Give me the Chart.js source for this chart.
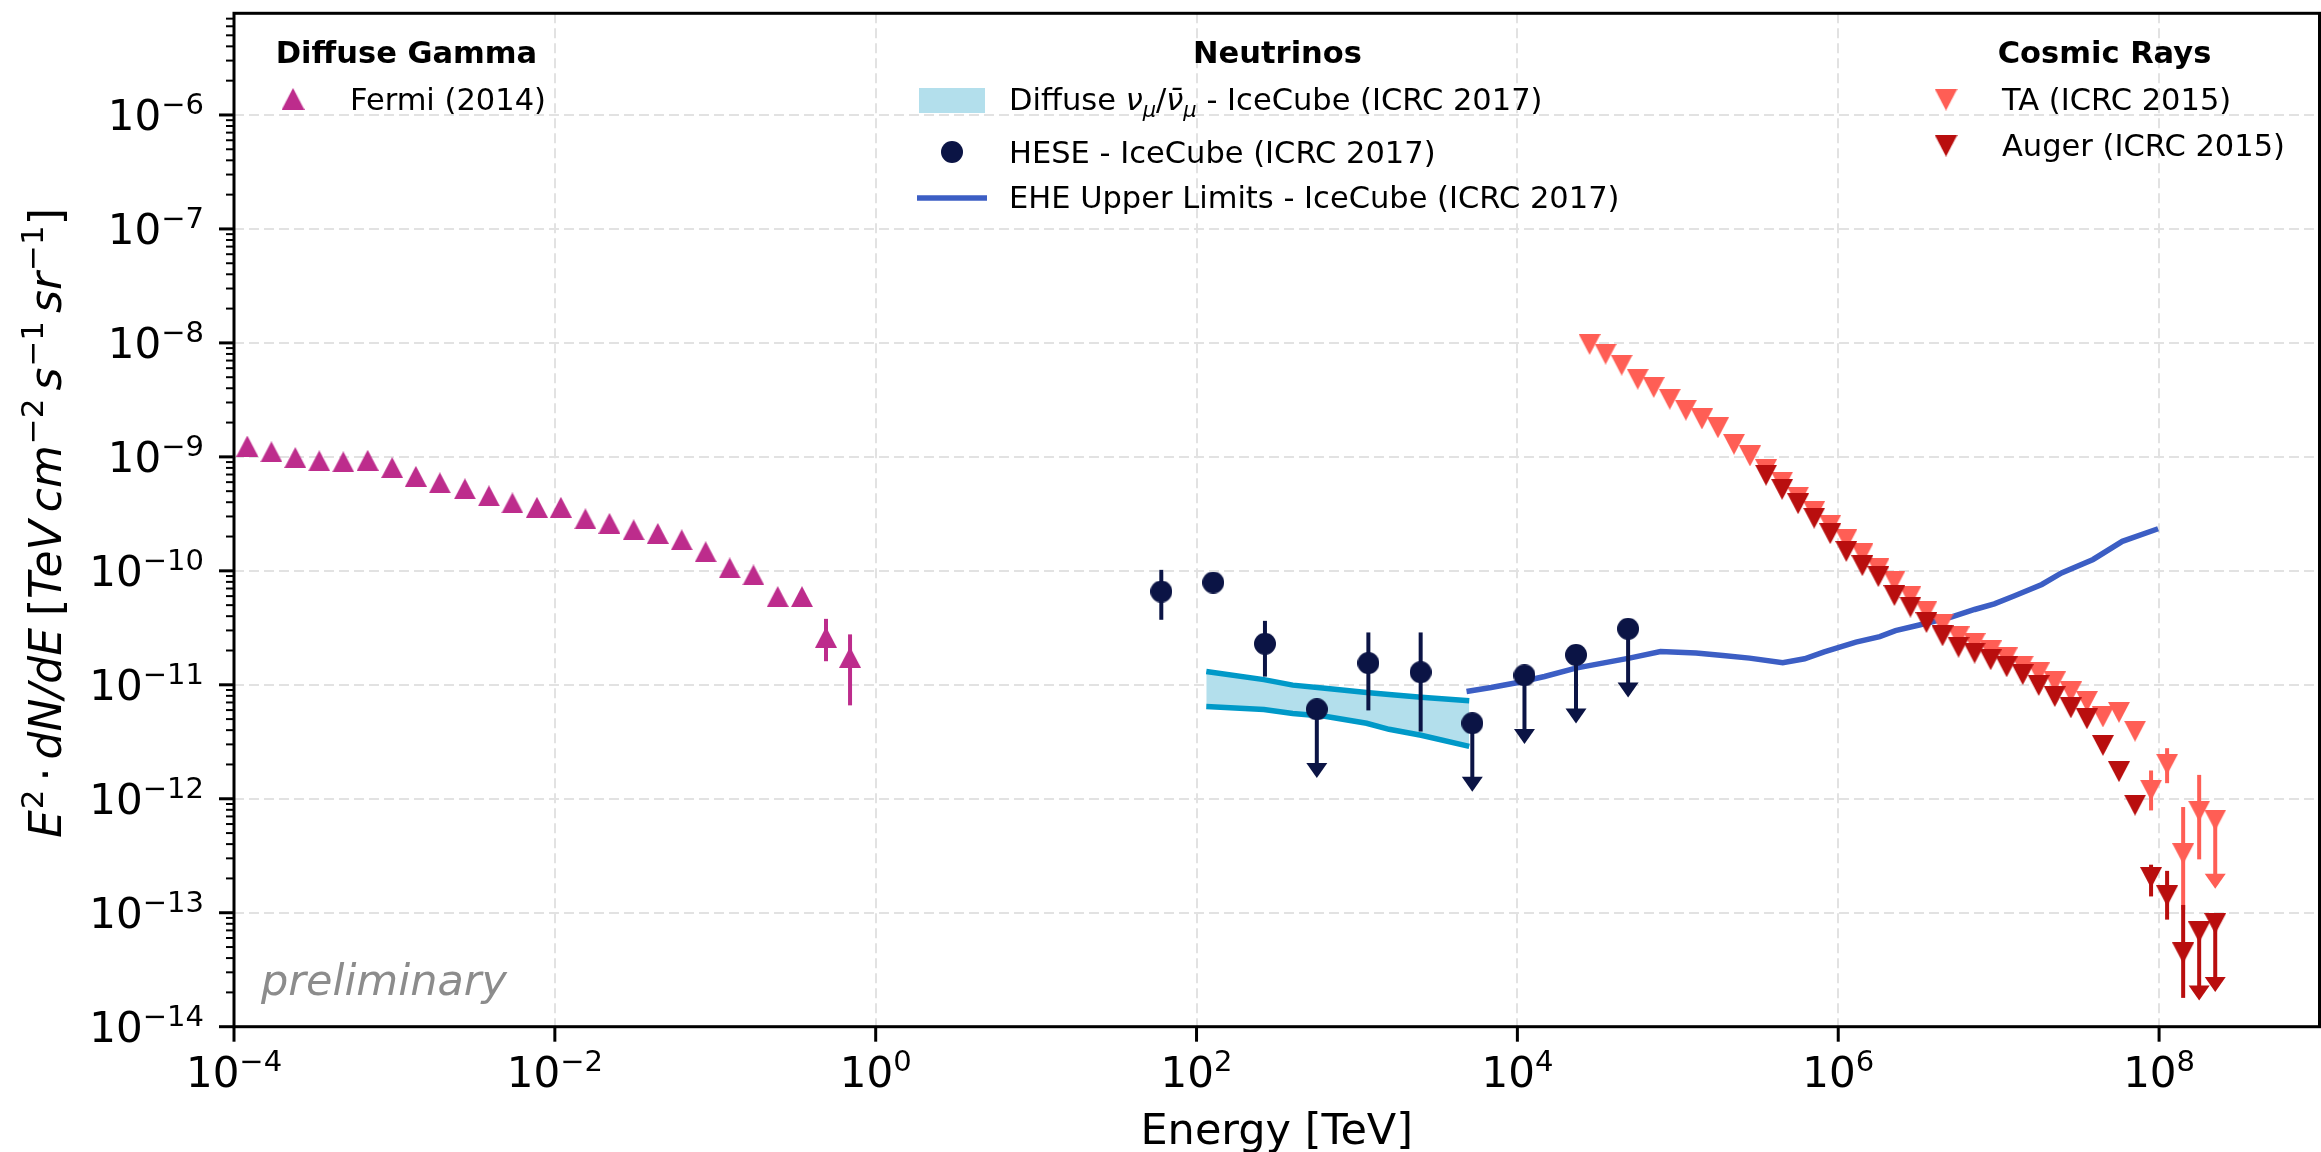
<!DOCTYPE html>
<html>
<head>
<meta charset="utf-8">
<title>Diffuse gamma, neutrino and cosmic-ray fluxes</title>
<script src="https://cdn.jsdelivr.net/npm/chart.js@4.4.1/dist/chart.umd.min.js"></script>
<style>
  html, body { margin: 0; padding: 0; background: #fff; }
  #wrap { position: relative; width: 2321px; height: 1152px; }
</style>
</head>
<body>
<div id="wrap"><canvas id="flux" width="2321" height="1152"></canvas></div>
<script>
// ---- data: energies in TeV, fluxes as E^2 dN/dE [TeV cm^-2 s^-1 sr^-1] ----

// Fermi diffuse gamma (2014)
const fermiE = [1.21e-4, 1.71e-4, 2.41e-4, 3.40e-4, 4.80e-4, 6.81e-4, 9.68e-4, 1.36e-3, 1.92e-3, 2.75e-3,
                3.88e-3, 5.44e-3, 7.73e-3, 1.09e-2, 1.55e-2, 2.19e-2, 3.10e-2, 4.38e-2, 6.18e-2, 8.71e-2,
                0.123, 0.173, 0.245, 0.347, 0.490, 0.692];
const fermiF = [1.245e-9, 1.107e-9, 9.86e-10, 9.23e-10, 9.04e-10, 9.33e-10, 8.05e-10, 6.75e-10, 5.92e-10, 5.24e-10,
                4.55e-10, 3.94e-10, 3.61e-10, 3.61e-10, 2.86e-10, 2.61e-10, 2.29e-10, 2.13e-10, 1.87e-10, 1.47e-10,
                1.06e-10, 9.2e-11, 5.94e-11, 5.94e-11, 2.61e-11, 1.74e-11];
const fermiLo = [null, null, null, null, null, null, null, null, null, null, null, null, null,
                 null, null, null, null, null, null, null, null, null, null, null, 1.61e-11, 6.6e-12];
const fermiHi = [null, null, null, null, null, null, null, null, null, null, null, null, null,
                 null, null, null, null, null, null, null, null, null, null, null, 3.79e-11, 2.77e-11];

// IceCube diffuse numu band
const bandE  = [115, 263, 398, 631, 1148, 1585, 2512, 5012];
const bandHi = [1.31e-11, 1.11e-11, 9.93e-12, 9.31e-12, 8.57e-12, 8.22e-12, 7.78e-12, 7.24e-12];
const bandLo = [6.46e-12, 6.07e-12, 5.61e-12, 5.30e-12, 4.60e-12, 4.07e-12, 3.61e-12, 2.88e-12];

// IceCube HESE
const heseE  = [60.3, 127, 267, 562, 1178, 2495, 5236, 1.107e4, 2.32e4, 4.9e4];
const heseF  = [6.58e-11, 7.9e-11, 2.29e-11, 6.1e-12, 1.55e-11, 1.29e-11, 4.6e-12, 1.21e-11, 1.83e-11, 3.1e-11];
const heseLo = [3.72e-11, 6.5e-11, 1.18e-11, null, 5.96e-12, 3.89e-12, null, null, null, null];
const heseHi = [1.02e-10, 9.4e-11, 3.64e-11, null, 2.88e-11, 2.88e-11, null, null, null, null];
const heseUL = [false, false, false, true, false, false, true, true, true, true];

// IceCube EHE upper limits
const eheE = [4820, 6855, 1.007e4, 1.476e4, 2.312e4, 3.396e4, 4.989e4, 7.80e4, 1.30e5, 1.91e5,
              2.80e5, 4.51e5, 6.17e5, 8.18e5, 1.29e6, 1.815e6, 2.275e6, 3.20e6, 5.05e6, 7.08e6,
              9.40e6, 1.247e7, 1.858e7, 2.466e7, 3.88e7, 5.90e7, 9.86e7];
const eheF = [8.73e-12, 9.46e-12, 1.047e-11, 1.183e-11, 1.40e-11, 1.55e-11, 1.714e-11, 1.959e-11, 1.897e-11, 1.807e-11,
              1.714e-11, 1.56e-11, 1.69e-11, 1.945e-11, 2.37e-11, 2.65e-11, 2.985e-11, 3.35e-11, 3.92e-11, 4.58e-11,
              5.14e-11, 6.01e-11, 7.59e-11, 9.59e-11, 1.259e-10, 1.816e-10, 2.34e-10];

// Telescope Array (ICRC 2015)
const taE = [2.818e4, 3.548e4, 4.467e4, 5.623e4, 7.079e4, 8.913e4, 1.122e5, 1.413e5, 1.778e5, 2.239e5,
             2.818e5, 3.548e5, 4.467e5, 5.623e5, 7.079e5, 8.913e5, 1.122e6, 1.413e6, 1.778e6, 2.239e6,
             2.818e6, 3.548e6, 4.467e6, 5.623e6, 7.079e6, 8.913e6, 1.122e7, 1.413e7, 1.778e7, 2.239e7,
             2.818e7, 3.548e7, 4.467e7, 5.623e7, 7.079e7, 8.913e7, 1.122e8, 1.413e8, 1.778e8, 2.239e8];
const taF = [9.7e-9, 7.98e-9, 6.39e-9, 4.81e-9, 4.07e-9, 3.21e-9, 2.57e-9, 2.15e-9, 1.80e-9, 1.29e-9,
             1.02e-9, 7.73e-10, 6.01e-10, 4.44e-10, 3.32e-10, 2.51e-10, 1.88e-10, 1.41e-10, 1.04e-10, 8.1e-11,
             5.97e-11, 4.44e-11, 3.40e-11, 2.63e-11, 2.30e-11, 1.98e-11, 1.72e-11, 1.46e-11, 1.27e-11, 1.06e-11,
             8.65e-12, 7.16e-12, 5.22e-12, 5.73e-12, 3.92e-12, 1.19e-12, 2.01e-12, 3.3e-13, 7.8e-13, 6.5e-13];
const taLo = [null, null, null, null, null, null, null, null, null, null, null, null, null, null, null, null, null, null, null, null,
              null, null, null, null, null, null, null, null, null, null, null, null, null, null, null, 7.9e-13, 1.37e-12, 1.06e-13, 2.94e-13, null];
const taHi = [null, null, null, null, null, null, null, null, null, null, null, null, null, null, null, null, null, null, null, null,
              null, null, null, null, null, null, null, null, null, null, null, null, null, null, null, 1.77e-12, 2.78e-12, 8.46e-13, 1.62e-12, null];
const taUL = [39];

// Pierre Auger (ICRC 2015)
const augerE = [3.548e5, 4.467e5, 5.623e5, 7.079e5, 8.913e5, 1.122e6, 1.413e6, 1.778e6, 2.239e6, 2.818e6,
                3.548e6, 4.467e6, 5.623e6, 7.079e6, 8.913e6, 1.122e7, 1.413e7, 1.778e7, 2.239e7, 2.818e7,
                3.548e7, 4.467e7, 5.623e7, 7.079e7, 8.913e7, 1.122e8, 1.413e8, 1.778e8, 2.239e8];
const augerF = [6.9e-10, 5.19e-10, 3.88e-10, 2.90e-10, 2.12e-10, 1.48e-10, 1.11e-10, 8.9e-11, 6.07e-11, 4.81e-11,
                3.52e-11, 2.69e-11, 2.14e-11, 1.90e-11, 1.66e-11, 1.44e-11, 1.23e-11, 9.86e-12, 7.89e-12, 6.28e-12,
                5.03e-12, 2.94e-12, 1.73e-12, 8.8e-13, 2.04e-13, 1.41e-13, 4.44e-14, 6.78e-14, 8.05e-14];
const augerLo = [null, null, null, null, null, null, null, null, null, null, null, null, null, null, null,
                 null, null, null, null, null, null, null, null, null, 1.39e-13, 8.7e-14, 1.79e-14, null, null];
const augerHi = [null, null, null, null, null, null, null, null, null, null, null, null, null, null, null,
                 null, null, null, null, null, null, null, null, null, 2.64e-13, 2.33e-13, 1.17e-13, null, null];
const augerUL = [27, 28];

// axes
const xMajor = [1e-4, 1e-2, 1, 1e2, 1e4, 1e6, 1e8];
const yMajor = [1e-14, 1e-13, 1e-12, 1e-11, 1e-10, 1e-9, 1e-8, 1e-7, 1e-6];

// ---- styling ----
const FONT = '"DejaVu Sans"';
const C_FERMI = '#bd2c8c';
const C_HESE = '#0b1445';
const C_BAND_LINE = '#0099c8';
const C_BAND_FILL = '#b3dfec';
const C_EHE = '#3c5ec4';
const C_TA = '#ff5e55';
const C_AUGER = '#b90e0e';
const GRID = '#e2e2e2';
const UL_FACTOR = 0.25;   // limit arrows reach down to a quarter of the value

function marker(shape, color, w, h) {
  const c = document.createElement('canvas');
  c.width = w; c.height = h;
  const g = c.getContext('2d');
  g.fillStyle = color;
  g.beginPath();
  if (shape === 'up') { g.moveTo(w / 2, 0); g.lineTo(w, h); g.lineTo(0, h); }
  else if (shape === 'down') { g.moveTo(0, 0); g.lineTo(w, 0); g.lineTo(w / 2, h); }
  else { g.ellipse(w / 2, h / 2, w / 2, h / 2, 0, 0, Math.PI * 2); }
  g.closePath();
  g.fill();
  return c;
}

const mFermi = marker('up', C_FERMI, 22, 21);
const mHese = marker('circle', C_HESE, 22, 22);
const mTA = marker('down', C_TA, 22, 21);
const mAuger = marker('down', C_AUGER, 22, 21);

const pts = (xs, ys) => xs.map((v, i) => ({ x: v, y: ys[i] }));
const ulFlags = (n, idx) => { const a = new Array(n).fill(false); idx.forEach(i => { a[i] = true; }); return a; };

function fontOf(r) {
  return (r.italic ? 'italic ' : '') + (r.bold ? 'bold ' : '') + r.size + 'px ' + FONT;
}
function runsWidth(ctx, runs) {
  let w = 0;
  runs.forEach(r => { ctx.font = fontOf(r); w += ctx.measureText(r.t).width + (r.gap || 0); });
  return w;
}
function drawRuns(ctx, runs, x, y, align) {
  const w = runsWidth(ctx, runs);
  let cx = align === 'center' ? x - w / 2 : align === 'right' ? x - w : x;
  ctx.textAlign = 'left';
  ctx.textBaseline = 'alphabetic';
  runs.forEach(r => {
    ctx.font = fontOf(r);
    ctx.fillText(r.t, cx, y + (r.dy || 0));
    cx += ctx.measureText(r.t).width + (r.gap || 0);
  });
}
const powLabel = v => {
  const e = Math.round(Math.log10(v));
  return [{ t: '10', size: 42 }, { t: String(e).replace('-', '\u2212'), size: 29, dy: -16.5 }];
};

// error bars and limit arrows, drawn just under each dataset's markers
const errorBars = {
  id: 'errorBars',
  beforeDatasetDraw(chart, args) {
    const ds = chart.data.datasets[args.index];
    if (!ds.errLo && !ds.ul) return;
    const { ctx, scales: { x, y } } = chart;
    ctx.save();
    ctx.strokeStyle = ds.barColor;
    ctx.fillStyle = ds.barColor;
    ctx.lineWidth = 4;
    ds.data.forEach((p, i) => {
      const px = x.getPixelForValue(p.x);
      if (ds.ul && ds.ul[i]) {
        const y0 = y.getPixelForValue(p.y);
        const tip = y.getPixelForValue(p.y * UL_FACTOR);
        ctx.beginPath(); ctx.moveTo(px, y0); ctx.lineTo(px, tip - 12); ctx.stroke();
        ctx.beginPath();
        ctx.moveTo(px - 10.5, tip - 15); ctx.lineTo(px + 10.5, tip - 15); ctx.lineTo(px, tip);
        ctx.closePath(); ctx.fill();
      } else if (ds.errLo && ds.errLo[i] != null) {
        ctx.beginPath();
        ctx.moveTo(px, y.getPixelForValue(ds.errHi[i]));
        ctx.lineTo(px, y.getPixelForValue(ds.errLo[i]));
        ctx.stroke();
      }
    });
    ctx.restore();
  }
};

// frame, ticks, labels and the grouped legend
const frame = {
  id: 'frame',
  afterDatasetsDraw(chart) {
    const { ctx, chartArea: a, scales: { x, y } } = chart;
    ctx.save();
    ctx.strokeStyle = '#000';
    const seg = (x1, y1, x2, y2) => { ctx.beginPath(); ctx.moveTo(x1, y1); ctx.lineTo(x2, y2); ctx.stroke(); };

    ctx.lineWidth = 2;
    for (let e = -14; e <= -6; e++) {
      for (let m = 2; m <= 9; m++) {
        const v = m * Math.pow(10, e);
        if (v > y.max) continue;
        const py = y.getPixelForValue(v);
        seg(a.left - 8, py, a.left, py);
      }
    }
    ctx.lineWidth = 3;
    yMajor.forEach(v => { const py = y.getPixelForValue(v); seg(a.left - 15, py, a.left, py); });
    xMajor.forEach(v => { const px = x.getPixelForValue(v); seg(px, a.bottom, px, a.bottom + 15); });
    ctx.strokeRect(a.left, a.top, a.right - a.left, a.bottom - a.top);

    ctx.fillStyle = '#000';
    yMajor.forEach(v => drawRuns(ctx, powLabel(v), 204, y.getPixelForValue(v) + 15.3, 'right'));
    xMajor.forEach(v => drawRuns(ctx, powLabel(v), x.getPixelForValue(v), 1087, 'center'));

    // axis titles
    drawRuns(ctx, [{ t: 'Energy [TeV]', size: 43 }], (a.left + a.right) / 2, 1144, 'center');
    ctx.save();
    ctx.translate(61, 523);
    ctx.rotate(-Math.PI / 2);
    const it = 44, sup = 31, up = -18;
    drawRuns(ctx, [
      { t: 'E', size: it, italic: true, gap: 1 }, { t: '2', size: sup, dy: up, gap: 8 },
      { t: '\u00b7', size: it, gap: 8 },
      { t: 'dN/dE', size: it, italic: true, gap: 12 },
      { t: '[', size: it }, { t: 'TeV', size: it, italic: true, gap: 8 },
      { t: 'cm', size: it, italic: true, gap: 1 }, { t: '\u22122', size: sup, dy: up, gap: 8 },
      { t: 's', size: it, italic: true, gap: 1 }, { t: '\u22121', size: sup, dy: up, gap: 8 },
      { t: 'sr', size: it, italic: true, gap: 1 }, { t: '\u22121', size: sup, dy: up },
      { t: ']', size: it }
    ], 0, 0, 'center');
    ctx.restore();

    ctx.fillStyle = '#8c8c8c';
    drawRuns(ctx, [{ t: 'preliminary', size: 43, italic: true }], 261, 995, 'left');

    // legend groups
    ctx.fillStyle = '#000';
    drawRuns(ctx, [{ t: 'Diffuse Gamma', size: 30.5, bold: true }], 406.5, 63, 'center');
    ctx.drawImage(mFermi, 293 - 11.5, 99 - 11, 23, 22);
    drawRuns(ctx, [{ t: 'Fermi (2014)', size: 30.5 }], 350, 110, 'left');

    drawRuns(ctx, [{ t: 'Neutrinos', size: 30.5, bold: true }], 1277.5, 63, 'center');
    ctx.fillStyle = C_BAND_FILL;
    ctx.fillRect(919, 88, 66, 25);
    ctx.fillStyle = '#000';
    drawRuns(ctx, [
      { t: 'Diffuse ', size: 30.5 },
      { t: '\u03bd', size: 30.5, italic: true }, { t: '\u03bc', size: 21, italic: true, dy: 7 },
      { t: '/', size: 30.5 },
      { t: '\u03bd\u0304', size: 30.5, italic: true }, { t: '\u03bc', size: 21, italic: true, dy: 7 },
      { t: ' - IceCube (ICRC 2017)', size: 30.5 }
    ], 1009, 110, 'left');
    ctx.drawImage(mHese, 952 - 11, 152 - 11);
    drawRuns(ctx, [{ t: 'HESE - IceCube (ICRC 2017)', size: 30.5 }], 1009, 163, 'left');
    ctx.strokeStyle = C_EHE;
    ctx.lineWidth = 5.5;
    seg(917, 198, 987, 198);
    drawRuns(ctx, [{ t: 'EHE Upper Limits - IceCube (ICRC 2017)', size: 30.5 }], 1009, 208, 'left');

    drawRuns(ctx, [{ t: 'Cosmic Rays', size: 30.5, bold: true }], 2104.5, 63, 'center');
    ctx.drawImage(mTA, 1946 - 11.5, 99.5 - 11, 23, 22);
    drawRuns(ctx, [{ t: 'TA (ICRC 2015)', size: 30.5 }], 2002, 110, 'left');
    ctx.drawImage(mAuger, 1946 - 11.5, 145.5 - 11, 23, 22);
    drawRuns(ctx, [{ t: 'Auger (ICRC 2015)', size: 30.5 }], 2002, 156, 'left');
    ctx.restore();
  }
};

const logAxis = (min, max, majors) => ({
  type: 'logarithmic',
  min: min,
  max: max,
  afterBuildTicks: s => { s.ticks = majors.map(v => ({ value: v })); },
  ticks: { display: false },
  grid: { color: GRID, lineWidth: 2, drawTicks: false },
  border: { display: false, dash: [10, 5] }
});

const xAxis = logAxis(1e-4, 1e9, xMajor);
xAxis.afterFit = s => { s.height = 125.3; };
const yAxis = logAxis(1e-14, 7.8e-6, yMajor);
yAxis.afterFit = s => { s.width = 234; };

new Chart(document.getElementById('flux'), {
  type: 'line',
  data: {
    datasets: [
      { label: 'Fermi (2014)', data: pts(fermiE, fermiF), showLine: false, order: 6,
        pointStyle: mFermi, pointRadius: 11, errLo: fermiLo, errHi: fermiHi, barColor: C_FERMI },
      { label: 'Diffuse band upper', data: pts(bandE, bandHi), order: 5, borderColor: C_BAND_LINE,
        borderWidth: 5.5, pointRadius: 0, fill: '+1', backgroundColor: C_BAND_FILL },
      { label: 'Diffuse band lower', data: pts(bandE, bandLo), order: 4, borderColor: C_BAND_LINE,
        borderWidth: 5.5, pointRadius: 0, fill: false },
      { label: 'EHE Upper Limits', data: pts(eheE, eheF), order: 3, borderColor: C_EHE,
        borderWidth: 5.5, pointRadius: 0, fill: false },
      { label: 'HESE', data: pts(heseE, heseF), showLine: false, order: 2, pointStyle: mHese,
        pointRadius: 11, errLo: heseLo, errHi: heseHi, ul: heseUL, barColor: C_HESE },
      { label: 'TA (ICRC 2015)', data: pts(taE, taF), showLine: false, order: 1, pointStyle: mTA,
        pointRadius: 11, errLo: taLo, errHi: taHi, ul: ulFlags(taE.length, taUL), barColor: C_TA },
      { label: 'Auger (ICRC 2015)', data: pts(augerE, augerF), showLine: false, order: 0, pointStyle: mAuger,
        pointRadius: 11, errLo: augerLo, errHi: augerHi, ul: ulFlags(augerE.length, augerUL), barColor: C_AUGER }
    ]
  },
  options: {
    responsive: false,
    animation: false,
    devicePixelRatio: 1,
    events: [],
    layout: { autoPadding: false, padding: { top: 13.3, right: 1.5, left: 0, bottom: 0 } },
    plugins: { legend: { display: false }, tooltip: { enabled: false } },
    elements: { line: { tension: 0 } },
    scales: { x: xAxis, y: yAxis }
  },
  plugins: [errorBars, frame]
});
</script>
</body>
</html>
